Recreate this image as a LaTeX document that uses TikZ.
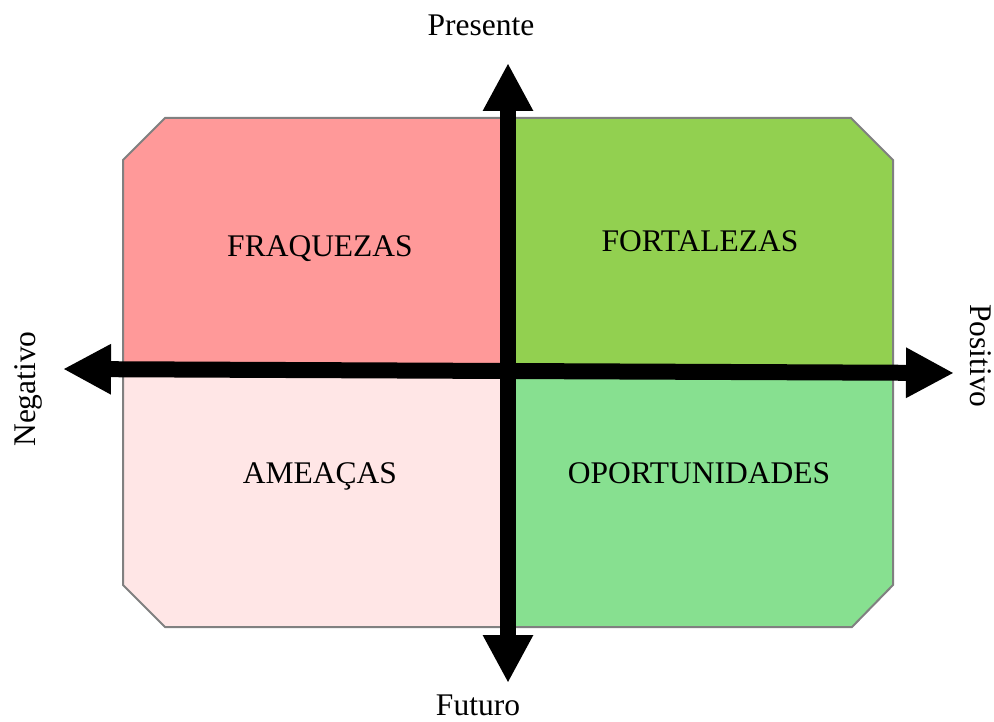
\documentclass[tikz,border=0pt]{standalone}
\usepackage{fontspec}
\setmainfont{Liberation Serif}
\usetikzlibrary{arrows.meta}

\definecolor{fraqcolor}{RGB}{255,153,153}
\definecolor{fortcolor}{RGB}{146,208,80}
\definecolor{ameacolor}{RGB}{255,230,230}
\definecolor{oportcolor}{RGB}{135,224,144}
\definecolor{edgecolor}{RGB}{128,128,128}

\begin{document}
\begin{tikzpicture}[x=1pt, y=-1pt,
    every node/.style={font=\fontsize{31.5}{37}\selectfont, inner sep=0pt},
    quadlabel/.style={anchor=base},
    axis/.style={line width=16pt,
                 {Triangle[length=48pt, width=47pt]}-{Triangle[length=48pt, width=47pt]}}]
    \useasboundingbox (0,0) rectangle (994,722);

    % quadrants
    \begin{scope}
      \clip (123,160) -- (165,118) -- (851,118) -- (893,160) -- (893,585) -- (852,627) -- (165,627) -- (123,585) -- cycle;
      \fill[fraqcolor]  (123,118) rectangle (509,370);
      \fill[fortcolor]  (509,118) rectangle (893,370);
      \fill[ameacolor]  (123,370) rectangle (509,627);
      \fill[oportcolor] (509,370) rectangle (893,627);
    \end{scope}
    \draw[edgecolor, line width=2pt] (123,160) -- (165,118) -- (851,118) -- (893,160) -- (893,585) -- (852,627) -- (165,627) -- (123,585) -- cycle;

    \node[quadlabel] (fraq)  at (320,257) {FRAQUEZAS};
    \node[quadlabel] (fort)  at (700,252) {FORTALEZAS};
    \node[quadlabel] (amea)  at (320,483) {AMEAÇAS};
    \node[quadlabel] (oport) at (699,483) {OPORTUNIDADES};

    % axes
    \coordinate (pres) at (508,63);
    \coordinate (fut)  at (508,683);
    \coordinate (neg)  at (63,369);
    \coordinate (pos)  at (954,373);
    \draw[axis] (fut) -- (pres);
    \draw[axis] (neg) -- (pos);

    \node[anchor=base] (presente) at (481,36) {Presente};
    \node[anchor=base] (futuro)   at (478,715) {Futuro};
    \node[anchor=base, rotate=90]  (negativo) at (35,389) {Negativo};
    \node[anchor=base, rotate=-90] (positivo) at (970,356) {Positivo};
\end{tikzpicture}
\end{document}
